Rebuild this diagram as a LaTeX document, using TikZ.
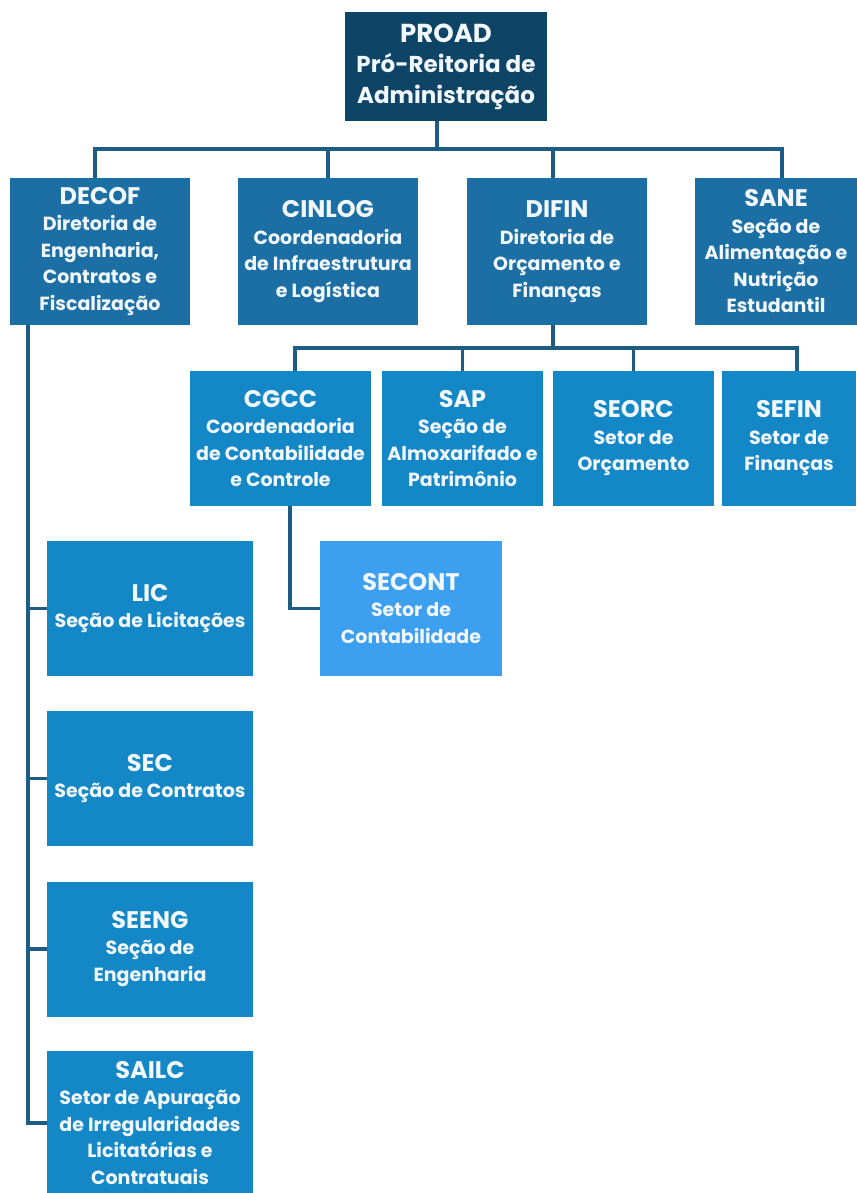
\documentclass[tikz,border=0pt]{standalone}
\usepackage{fontspec}
\setmainfont{Poppins}
\usetikzlibrary{positioning}

\definecolor{navy}{HTML}{0E4466}
\definecolor{midblue}{HTML}{1C6FA4}
\definecolor{unitblue}{HTML}{1487C7}
\definecolor{lightblue}{HTML}{3D9FF0}
\definecolor{wire}{HTML}{1D5D84}
\definecolor{ink}{HTML}{F1F7FB}

\tikzset{
	unit/.style = {fill = unitblue, text = ink, align = center, inner sep = 0pt,
		font = \bfseries\fontsize{19}{26.5}\selectfont},
	head/.style = {unit, fill = midblue, minimum height = 147pt},
	sub/.style = {unit, minimum height = 135pt},
	link/.style = {draw = wire, line width = 3.6pt}
}
\newcommand{\ttl}[1]{{\fontsize{24}{26.5}\selectfont #1}}

\begin{document}
\begin{tikzpicture}[x = 1pt, y = -1pt, > = latex]

	% Definitions

	\def\busA{149}		% Bus under PROAD
	\def\busB{348}		% Bus under DIFIN
	\def\trunk{28}		% Trunk of DECOF
	\def\cgccx{290}		% Trunk of CGCC

	\useasboundingbox [fill = white] (0, 0) rectangle (856, 1193);

	% Top level

	\node [unit, fill = navy, minimum width = 202pt, minimum height = 109pt,
		font = \bfseries\fontsize{23}{30.5}\selectfont] (proad) at (446, 66.5)
		{{\fontsize{26}{30.5}\selectfont PROAD}\\Pró-Reitoria de\\Administração};

	% Directorates

	\node [head, minimum width = 180pt] (decof) at (100, 251.5)
		{\ttl{DECOF}\\Diretoria de\\Engenharia,\\Contratos e\\Fiscalização};
	\node [head, minimum width = 180pt] (cinlog) at (328, 251.5)
		{\ttl{CINLOG}\\Coordenadoria\\de Infraestrutura\\e Logística};
	\node [head, minimum width = 180pt] (difin) at (557, 251.5)
		{\ttl{DIFIN}\\Diretoria de\\Orçamento e\\Finanças};
	\node [head, minimum width = 162pt] (sane) at (776, 251.5)
		{\ttl{SANE}\\Seção de\\Alimentação e\\Nutrição\\Estudantil};

	% Units of DIFIN

	\node [sub, minimum width = 181pt] (cgcc) at (280.5, 438.5)
		{\ttl{CGCC}\\Coordenadoria\\de Contabilidade\\e Controle};
	\node [sub, minimum width = 161pt] (sap) at (462.5, 438.5)
		{\ttl{SAP}\\Seção de\\Almoxarifado e\\Patrimônio};
	\node [sub, minimum width = 161pt] (seorc) at (633.5, 438.5)
		{\ttl{SEORC}\\Setor de\\Orçamento};
	\node [sub, minimum width = 134pt] (sefin) at (789, 438.5)
		{\ttl{SEFIN}\\Setor de\\Finanças};

	\node [sub, fill = lightblue, minimum width = 182pt] (secont) at (411, 608.5)
		{\ttl{SECONT}\\Setor de\\Contabilidade};

	% Units of DECOF

	\node [sub, minimum width = 206pt] (lic) at (150, 608.5)
		{\ttl{LIC}\\Seção de Licitações};
	\node [sub, minimum width = 206pt] (sec) at (150, 778.5)
		{\ttl{SEC}\\Seção de Contratos};
	\node [sub, minimum width = 206pt] (seeng) at (150, 949)
		{\ttl{SEENG}\\Seção de\\Engenharia};
	\node [sub, minimum width = 206pt, minimum height = 144pt] (sailc) at (150, 1123)
		{\ttl{SAILC}\\Setor de Apuração\\de Irregularidades\\Licitatórias e\\Contratuais};

	% Connectors

	\draw [link] ([xshift = -9pt] proad.south) -- ++(0, \busA - 121);
	\draw [link] ([xshift = -5pt] decof.north) |- ([xshift = 6pt] sane.north |- 0, \busA) -- ([xshift = 6pt] sane.north);
	\draw [link] (cinlog.north) -- (cinlog.north |- 0, \busA);
	\draw [link] ([xshift = -4pt] difin.north) -- ++(0, \busA - 178);

	\draw [link] ([xshift = -4pt] difin.south) -- ++(0, \busB - 325);
	\draw [link] ([xshift = 14.5pt] cgcc.north) |- ([xshift = 8pt] sefin.north |- 0, \busB) -- ([xshift = 8pt] sefin.north);
	\draw [link] (sap.north) -- (sap.north |- 0, \busB);
	\draw [link] (seorc.north) -- (seorc.north |- 0, \busB);

	\draw [link] (cgcc.south -| \cgccx, 0) |- (secont.west);

	\draw [link] (decof.south -| \trunk, 0) |- (sailc.west);
	\foreach \u in {lic, sec, seeng}
		\draw [link] (\u.west -| \trunk, 0) -- (\u.west);

\end{tikzpicture}
\end{document}
